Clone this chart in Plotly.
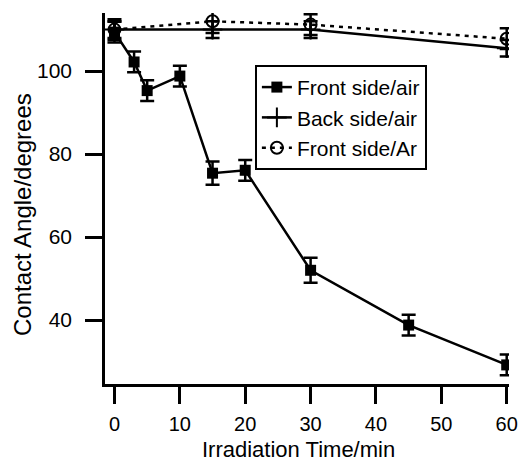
import plotly.graph_objects as go

# Data
time_front_air = [0, 3, 5, 10, 15, 20, 30, 45, 60]
angle_front_air = [109.4, 102.2, 95.3, 98.8, 75.4, 76.1, 52.0, 38.8, 29.2]
err_front_air = [2.5, 2.5, 2.5, 2.5, 2.8, 2.5, 3.0, 2.5, 2.5]

time_back_air = [0, 15, 30, 60]
angle_back_air = [110.0, 110.0, 110.0, 105.5]
err_back_air = [2.0, 2.0, 2.0, 2.0]

time_front_ar = [0, 15, 30, 60]
angle_front_ar = [110.0, 112.0, 111.2, 107.8]
err_front_ar = [2.5, 2.8, 2.5, 2.5]

x_ticks = [0, 10, 20, 30, 40, 50, 60]
y_ticks = [40, 60, 80, 100]

FONT = "Liberation Sans, Arial, sans-serif"
err_style = dict(type="data", thickness=2.5, width=7, color="black")

fig = go.Figure()
fig.add_trace(go.Scatter(
    x=time_front_air, y=angle_front_air, name="Front side/air",
    mode="lines+markers",
    line=dict(color="black", width=2.5),
    marker=dict(symbol="square", size=11, color="black"),
    error_y=dict(array=err_front_air, **err_style),
))
fig.add_trace(go.Scatter(
    x=time_back_air, y=angle_back_air, name="Back side/air",
    mode="lines+markers",
    line=dict(color="black", width=2.5),
    marker=dict(symbol="cross-thin", size=14, color="black",
                line=dict(color="black", width=2)),
    error_y=dict(array=err_back_air, **err_style),
))
fig.add_trace(go.Scatter(
    x=time_front_ar, y=angle_front_ar, name="Front side/Ar",
    mode="lines+markers",
    line=dict(color="black", width=2.5, dash="4px,5px"),
    marker=dict(symbol="circle-open", size=12, color="black",
                line=dict(color="black", width=2)),
    error_y=dict(array=err_front_ar, **err_style),
))

axis_common = dict(
    showline=True, linecolor="black", linewidth=2.5,
    ticks="outside", ticklen=17, tickwidth=2.5, tickcolor="black",
    showgrid=False, zeroline=False, mirror=False, automargin=False,
)

fig.update_layout(
    width=522, height=462,
    margin=dict(l=105, r=13, t=13, b=78),
    paper_bgcolor="white", plot_bgcolor="white",
    font=dict(family=FONT, color="black"),
    xaxis=dict(range=[-1.45, 60.35], tickvals=x_ticks,
               ticklabelstandoff=3,
               tickfont=dict(family=FONT, size=20, color="black"),
               **axis_common),
    yaxis=dict(range=[24.6, 114.0], tickvals=y_ticks,
               ticklabelstandoff=9,
               tickfont=dict(family=FONT, size=21, color="black"),
               **axis_common),
    legend=dict(x=0.371, y=0.86, xanchor="left", yanchor="top",
                bordercolor="black", borderwidth=2, bgcolor="white",
                font=dict(family=FONT, size=21, color="black"),
                itemwidth=30, tracegroupgap=0),
    showlegend=True,
    annotations=[
        dict(text="Contact Angle/degrees", textangle=-90,
             xref="paper", yref="paper", x=-0.2054, y=0.4555,
             xanchor="center", yanchor="middle", showarrow=False,
             font=dict(family=FONT, size=24, color="black")),
        dict(text="Irradiation Time/min",
             xref="paper", yref="paper", x=0.48, y=-0.212,
             xanchor="center", yanchor="bottom", showarrow=False,
             borderpad=0,
             font=dict(family=FONT, size=22, color="black")),
    ],
)

fig.write_html("out.html")
